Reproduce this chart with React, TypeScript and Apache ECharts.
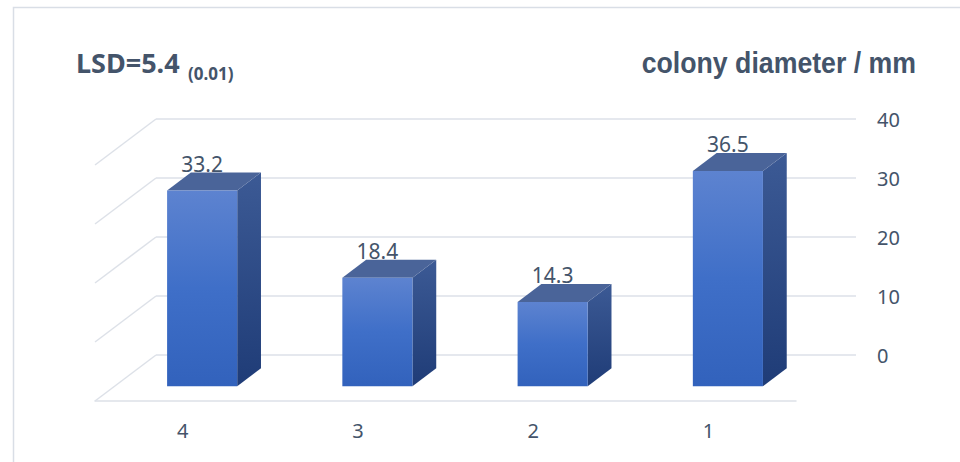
import React, { useEffect, useRef } from 'react';
import * as echarts from 'echarts';

// Treatments shown along the floor, right to left in the plot order
const categories = ['4', '3', '2', '1'];
// Mean colony diameter, mm
const diameters = [33.2, 18.4, 14.3, 36.5];
// Value axis ticks
const valueTicks = [0, 10, 20, 30, 40];

const titleMain = 'LSD=5.4';
const titleSub = '(0.01)';
const axisTitle = 'colony diameter / mm';

const TEXT = '#44546A';
const GRID_LINE = '#DDE1E8';
const LABEL_FONT = "'Noto Sans', 'Open Sans', sans-serif";

// Oblique depth vector from the front plane to the back wall, in px
const DEPTH_X = 61;
const DEPTH_Y = -46;
// Bar box sits between these fractions of the depth
const BAR_FRONT = 0.32;
const BAR_BACK = 0.71;
const BAR_WIDTH_RATIO = 0.4;

export default function App() {
  const ref = useRef<HTMLDivElement>(null);

  useEffect(() => {
    const chart = echarts.init(ref.current!, null, { renderer: 'svg' });

    const tickMin = valueTicks[0];
    const tickMax = valueTicks[valueTicks.length - 1];
    const tickStep = valueTicks[1] - valueTicks[0];

    const frontFill = new echarts.graphic.LinearGradient(0, 0, 0, 1, [
      { offset: 0, color: '#5D83D0' },
      { offset: 0.5, color: '#3F6FC8' },
      { offset: 1, color: '#3262BC' },
    ]);
    const sideFill = new echarts.graphic.LinearGradient(0, 0, 0, 1, [
      { offset: 0, color: '#3C5A95' },
      { offset: 1, color: '#1F3C77' },
    ]);
    const topFill = '#4A6499';

    chart.setOption({
      animation: false,
      backgroundColor: '#ffffff',
      grid: [
        // front plane (floor front edge and bar bases)
        { left: 95, right: 164, top: 165, bottom: 61 },
        // back wall
        { left: 156, right: 104, top: 119, bottom: 107 },
      ],
      xAxis: [
        {
          type: 'category',
          gridIndex: 0,
          data: categories,
          axisLine: { show: true, lineStyle: { color: GRID_LINE, width: 1.5 } },
          axisTick: { show: false },
          axisLabel: { color: TEXT, fontSize: 20, fontFamily: LABEL_FONT, margin: 19 },
          splitLine: { show: false },
        },
        {
          type: 'category',
          gridIndex: 1,
          data: categories,
          show: false,
        },
      ],
      yAxis: [
        {
          type: 'value',
          gridIndex: 0,
          min: tickMin,
          max: tickMax,
          interval: tickStep,
          show: false,
        },
        {
          type: 'value',
          gridIndex: 1,
          position: 'right',
          min: tickMin,
          max: tickMax,
          interval: tickStep,
          axisLine: { show: false },
          axisTick: { show: false },
          axisLabel: { color: TEXT, fontSize: 20, fontFamily: LABEL_FONT, margin: 21 },
          splitLine: { show: true, lineStyle: { color: GRID_LINE, width: 1.5 } },
        },
      ],
      series: [
        {
          // side wall gridlines running from the front plane to the back wall
          type: 'custom',
          xAxisIndex: 0,
          yAxisIndex: 0,
          silent: true,
          z: 1,
          data: valueTicks.map((v) => [0, v]),
          renderItem: (params: any, api: any) => {
            const cs = params.coordSys;
            const y = api.coord([0, api.value(1)])[1];
            return {
              type: 'line',
              shape: { x1: cs.x, y1: y, x2: cs.x + DEPTH_X, y2: y + DEPTH_Y },
              style: { stroke: GRID_LINE, lineWidth: 1.5 },
            };
          },
        },
        {
          // 3D columns
          type: 'custom',
          xAxisIndex: 0,
          yAxisIndex: 0,
          silent: true,
          z: 3,
          data: diameters.map((v, i) => [i, v]),
          renderItem: (params: any, api: any) => {
            const idx = api.value(0);
            const val = api.value(1);
            const base = api.coord([idx, 0]);
            const top = api.coord([idx, val]);
            const band = api.size([1, 0])[0];
            const w = band * BAR_WIDTH_RATIO;
            const ox = DEPTH_X * BAR_FRONT;
            const oy = DEPTH_Y * BAR_FRONT;
            const dx = DEPTH_X * (BAR_BACK - BAR_FRONT);
            const dy = DEPTH_Y * (BAR_BACK - BAR_FRONT);
            const xl = base[0] + ox - w / 2;
            const xr = xl + w;
            const yt = top[1] + oy;
            const yb = base[1] + oy;
            return {
              type: 'group',
              children: [
                {
                  type: 'polygon',
                  shape: { points: [[xr, yt], [xr + dx, yt + dy], [xr + dx, yb + dy], [xr, yb]] },
                  style: { fill: sideFill },
                },
                {
                  type: 'polygon',
                  shape: { points: [[xl, yt], [xl + dx, yt + dy], [xr + dx, yt + dy], [xr, yt]] },
                  style: { fill: topFill },
                },
                {
                  type: 'rect',
                  shape: { x: xl, y: yt, width: w, height: yb - yt },
                  style: { fill: frontFill },
                },
                {
                  type: 'text',
                  x: xl + w / 2,
                  y: yt + dy - 8.5,
                  style: {
                    text: String(val),
                    fill: TEXT,
                    fontSize: 21,
                    fontFamily: LABEL_FONT,
                    align: 'center',
                    verticalAlign: 'middle',
                  },
                },
              ],
            };
          },
        },
      ],
      graphic: [
        {
          type: 'rect',
          silent: true,
          z: -10,
          shape: { x: 13.5, y: 7.5, width: 980, height: 480 },
          style: { fill: 'none', stroke: '#D9DEE6', lineWidth: 1.5 },
        },
        {
          type: 'text',
          x: 76,
          y: 62,
          style: {
            text: titleMain,
            fill: TEXT,
            fontSize: 27,
            fontWeight: 'bold',
            fontFamily: LABEL_FONT,
            align: 'left',
            verticalAlign: 'middle',
          },
        },
        {
          type: 'text',
          x: 188,
          y: 73,
          style: {
            text: titleSub,
            fill: TEXT,
            fontSize: 17,
            fontWeight: 'bold',
            fontFamily: LABEL_FONT,
            align: 'left',
            verticalAlign: 'middle',
          },
        },
        {
          // value-axis title, set in a condensed bold sans
          type: 'text',
          x: 916,
          y: 62.6,
          scaleX: 0.89,
          style: {
            text: axisTitle,
            fill: TEXT,
            fontSize: 30,
            fontWeight: 'bold',
            fontFamily: "'Liberation Sans', Arial, sans-serif",
            align: 'right',
            verticalAlign: 'middle',
          },
        },
      ],
    });

    return () => chart.dispose();
  }, []);

  return (
    <div
      ref={ref}
      style={{ position: 'fixed', left: 0, top: 0, width: 960, height: 462, background: '#ffffff' }}
    />
  );
}
